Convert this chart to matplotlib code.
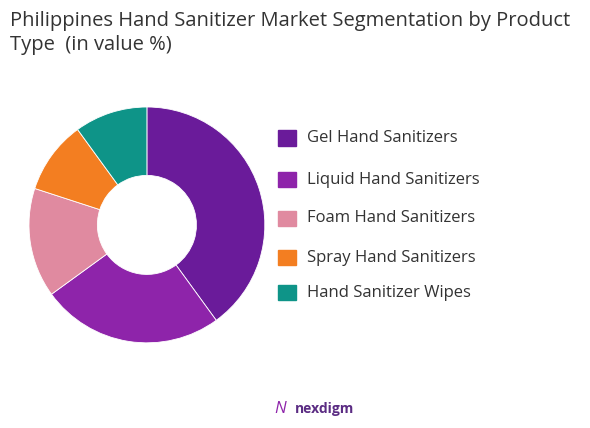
import matplotlib
matplotlib.use("Agg")
import matplotlib.pyplot as plt
from matplotlib.patches import Rectangle

labels = ["Gel Hand Sanitizers", "Liquid Hand Sanitizers", "Foam Hand Sanitizers",
          "Spray Hand Sanitizers", "Hand Sanitizer Wipes"]
values = [40, 25, 15, 10, 10]
colors = ["#6A1B9A", "#8E24AA", "#E08AA0", "#F37E21", "#0E9488"]

plt.rcParams['font.family'] = ['Open Sans', 'DejaVu Sans']
fig = plt.figure(figsize=(5.9, 4.28), dpi=100)
fig.text(0.017, 0.975, "Philippines Hand Sanitizer Market Segmentation by Product\nType  (in value %)",
         ha="left", va="top", fontsize=14.5, color="#333333", linespacing=1.3)

ax = fig.add_axes([0.049, 0.199, 0.40, 0.551])
ax.pie(values, colors=colors, startangle=90, counterclock=False,
       wedgeprops=dict(width=0.58, edgecolor="white", linewidth=0.6), radius=1)
ax.set_xlim(-1, 1)
ax.set_ylim(-1, 1)
ax.set_aspect("equal")

ys = [0.678, 0.580, 0.490, 0.398, 0.316]
for lab, c, y in zip(labels, colors, ys):
    fig.patches.append(Rectangle((0.472, y - 0.018), 0.030, 0.036, color=c, transform=fig.transFigure))
    fig.text(0.52, y, lab, ha="left", va="center", fontsize=12.0, color="#333333")

fig.text(0.50, 0.045, "nexdigm", ha="left", va="center", fontsize=10, color="#5B2C83", fontweight="bold")
fig.text(0.465, 0.045, "N", ha="left", va="center", fontsize=12, color="#8E24AA", style="italic")
fig.savefig("out.png", dpi=100, facecolor="white")
